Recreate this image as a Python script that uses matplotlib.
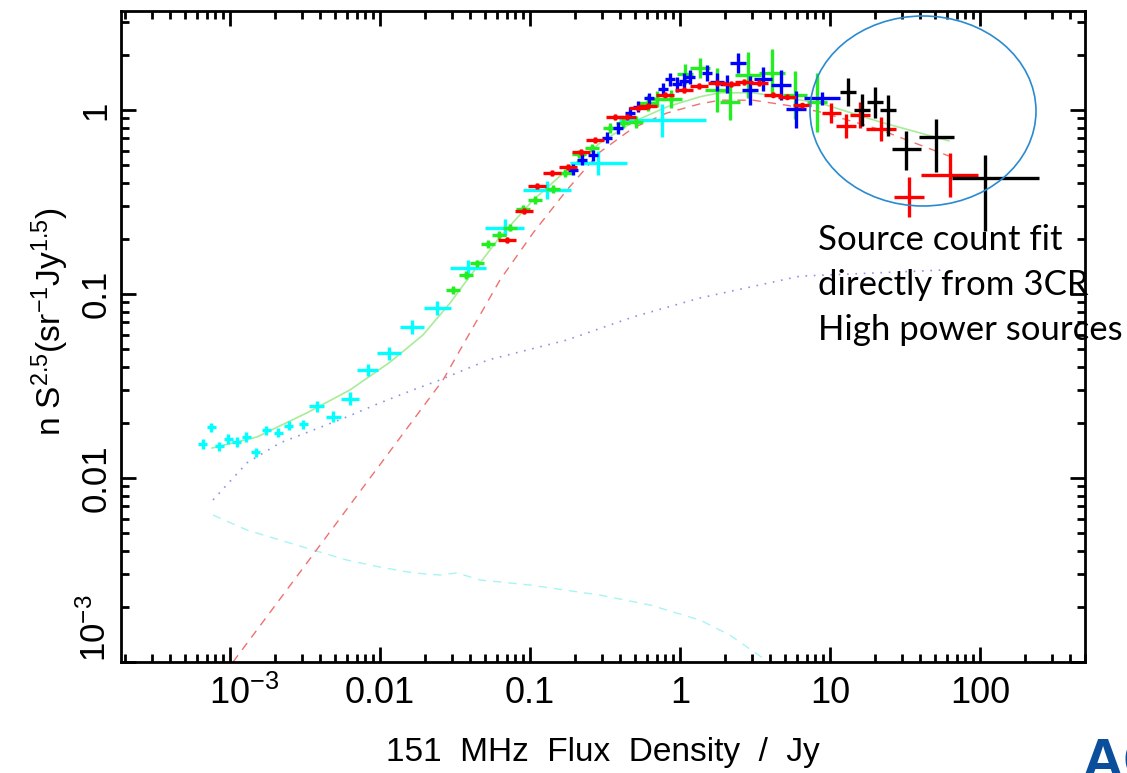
import numpy as np
import matplotlib
matplotlib.use("Agg")
import matplotlib.pyplot as plt
import matplotlib.transforms as mtransforms
from matplotlib.patches import Ellipse
from matplotlib.ticker import FixedLocator, FixedFormatter, LogLocator, NullFormatter

plt.rcParams['font.family'] = ['Liberation Sans', 'DejaVu Sans']
plt.rcParams['mathtext.fontset'] = 'custom'
plt.rcParams['mathtext.rm'] = 'Liberation Sans'
plt.rcParams['mathtext.it'] = 'Liberation Sans:italic'

# ===================== DATA (151 MHz flux / Jy, n S^2.5) =====================
# cyan survey
cyan_s = [6.6e-4, 7.5e-4, 8.5e-4, 9.7e-4, 1.11e-3, 1.28e-3, 1.49e-3, 1.74e-3, 2.09e-3, 2.47e-3,
          3.07e-3, 3.8e-3, 4.86e-3, 6.3e-3, 8.3e-3, 0.0115, 0.0163, 0.024, 0.0386, 0.068,
          0.13, 0.284, 0.76]
cyan_n = [0.0153, 0.0189, 0.0149, 0.0163, 0.0157, 0.0167, 0.0138, 0.0182, 0.0176, 0.0192,
          0.0196, 0.0246, 0.0215, 0.0269, 0.0386, 0.0477, 0.0662, 0.084, 0.138, 0.229,
          0.367, 0.515, 0.88]
cyan_xd = [0.03] * 11 + [0.05, 0.05, 0.06, 0.07, 0.08, 0.08, 0.09, 0.12, 0.13, 0.16, 0.19, 0.29]
cyan_yd = [0.025] * 11 + [0.03, 0.03, 0.035, 0.035, 0.035, 0.04, 0.04, 0.045, 0.045, 0.05, 0.065, 0.09]

# green survey
green_s = [0.0307, 0.0374, 0.0443, 0.0525, 0.0621, 0.0736, 0.0898, 0.108, 0.142, 0.171,
           0.212, 0.259, 0.341, 0.417, 0.509, 0.612, 0.703, 0.871, 1.08, 1.36,
           1.77, 2.15, 2.84, 4.1, 5.84, 8.19]
green_n = [0.105, 0.127, 0.147, 0.187, 0.209, 0.229, 0.29, 0.324, 0.372, 0.455,
           0.577, 0.621, 0.798, 0.85, 0.86, 1.09, 1.15, 1.15, 1.57, 1.69,
           1.28, 1.10, 1.55, 1.59, 1.21, 1.10]
green_xd = [0.045] * 15 + [0.06, 0.06, 0.07, 0.055, 0.065, 0.08, 0.065, 0.085, 0.085, 0.08, 0.065]
green_yd = [0.02] * 12 + [0.025, 0.03, 0.035, 0.045, 0.045, 0.05, 0.055, 0.055, 0.12, 0.095,
                          0.125, 0.13, 0.13, 0.16]

# blue survey
blue_s = [0.194, 0.222, 0.263, 0.326, 0.386, 0.464, 0.525, 0.621, 0.77, 0.858, 0.955,
          1.06, 1.17, 1.51, 1.77, 2.06, 2.44, 2.93, 3.57, 4.71, 5.93, 8.85]
blue_n = [0.472, 0.535, 0.569, 0.705, 0.798, 0.963, 1.04, 1.16, 1.30, 1.47, 1.38,
          1.44, 1.51, 1.59, 1.42, 1.38, 1.80, 1.28, 1.47, 1.37, 1.01, 1.16]
blue_xd = [0.035] * 14 + [0.045, 0.05, 0.055, 0.055, 0.06, 0.065, 0.065, 0.12]
blue_yd = [0.03] * 8 + [0.035, 0.035, 0.04, 0.04, 0.04, 0.045, 0.05, 0.05, 0.055, 0.08,
                        0.065, 0.08, 0.1, 0.035]

# red survey
red_s = [0.0703, 0.0912, 0.111, 0.14, 0.179, 0.219, 0.271, 0.369, 0.443, 0.525, 0.612,
         0.794, 1.06, 1.34, 1.77, 2.19, 2.67, 3.36, 4.17, 5.17, 6.5,
         10.2, 12.8, 15.8, 21.9, 33.6, 63.0]
red_n = [0.197, 0.283, 0.386, 0.455, 0.49, 0.591, 0.687, 0.916, 0.916, 1.03, 1.05,
         1.21, 1.28, 1.35, 1.40, 1.38, 1.42, 1.40, 1.21, 1.18, 1.06,
         0.963, 0.819, 0.94, 0.788, 0.337, 0.443]
red_xd = [0.06] * 21 + [0.065, 0.065, 0.065, 0.1, 0.1, 0.19]
red_yd = [0.015] * 21 + [0.055, 0.065, 0.07, 0.065, 0.11, 0.12]

# black (3CR)
black_s = [13.2, 16.3, 20.0, 24.4, 32.1, 50.9, 108.0]
black_n = [1.25, 1.0, 1.10, 1.0, 0.614, 0.713, 0.427]
black_xlo = [0.055, 0.055, 0.055, 0.055, 0.093, 0.113, 0.22]
black_xhi = [0.055, 0.055, 0.055, 0.055, 0.10, 0.12, 0.36]
black_ylo = [0.075, 0.085, 0.085, 0.14, 0.115, 0.19, 0.29]
black_yhi = [0.075, 0.085, 0.085, 0.08, 0.10, 0.10, 0.125]

# model curves
total_s = [7.6e-4, 1.51e-3, 3.26e-3, 6.31e-3, 0.0117, 0.0193, 0.0293, 0.038, 0.063, 0.105,
           0.176, 0.293, 0.486, 0.819, 1.36, 1.85, 3.07, 5.17, 8.58, 21.5, 62.0]
total_n = [0.01455, 0.0167, 0.0226, 0.0301, 0.0427, 0.0598, 0.0893, 0.119, 0.204, 0.324,
           0.472, 0.662, 0.861, 1.04, 1.18, 1.24, 1.24, 1.16, 1.09, 0.861, 0.679]

hp_s = [1.047e-3, 2.93e-3, 8.58e-3, 0.0263, 0.063, 0.105, 0.176, 0.293, 0.486, 0.819,
        1.36, 1.85, 3.07, 5.17, 8.58, 20.9, 62.0]
hp_n = [1.0e-3, 3.08e-3, 0.01, 0.0341, 0.119, 0.215, 0.367, 0.591, 0.798, 0.963,
        1.08, 1.13, 1.13, 1.06, 0.976, 0.788, 0.562]

lp_s = [7.7e-4, 1.3e-3, 2.15e-3, 3.58e-3, 6.03e-3, 0.01, 0.0166, 0.0251, 0.0525, 0.176,
        0.486, 1.36, 6.31, 57.5]
lp_n = [7.6e-3, 0.0121, 0.0155, 0.0182, 0.0215, 0.0256, 0.0301, 0.0341, 0.0438, 0.0562,
        0.075, 0.0951, 0.125, 0.135]

sf_s = [7.7e-4, 1.3e-3, 2.15e-3, 3.58e-3, 6.03e-3, 0.01, 0.0166, 0.0251, 0.0326, 0.0464,
        0.1, 0.293, 0.631, 1.36, 2.15, 3.69]
sf_n = [6.29e-3, 5.21e-3, 4.6e-3, 4.06e-3, 3.58e-3, 3.28e-3, 3.05e-3, 2.97e-3, 3.05e-3, 2.79e-3,
        2.62e-3, 2.31e-3, 2.04e-3, 1.69e-3, 1.4e-3, 1.03e-3]

x_ticks = [1e-3, 0.01, 0.1, 1, 10, 100]
x_tick_labels = ['$10^{-3}$', '0.01', '0.1', '1', '10', '100']
y_ticks = [1e-3, 0.01, 0.1, 1]
y_tick_labels = ['$10^{-3}$', '0.01', '0.1', '1']
note = "Source count fit\ndirectly from 3CR\nHigh power sources"
# ============================================================================


def dex_err(v, lo, hi):
    v = np.asarray(v, float)
    return [v - v / 10 ** np.asarray(lo), v * 10 ** np.asarray(hi) - v]


W, H = 1127, 773
fig = plt.figure(figsize=(W / 100, H / 100), dpi=100)
ax = fig.add_axes([121 / W, 1 - 662 / H, (1085 - 121) / W, (662 - 11) / H])
ax.set_xscale('log'); ax.set_yscale('log')
ax.set_xlim(1.876e-4, 501); ax.set_ylim(1e-3, 3.45)

# model curves
ax.plot(sf_s, sf_n, color='#a8f4f4', lw=1.0, ls=(0, (6, 5)), zorder=1)
ax.plot(lp_s, lp_n, color='#9090e8', lw=1.2, ls=(0, (1, 4)), zorder=1)
ax.plot(hp_s, hp_n, color='#f07070', lw=1.0, ls=(0, (6, 5)), zorder=1)
ax.plot(total_s, total_n, color='#a8ec98', lw=1.2, zorder=1)

ekw = dict(fmt='none', elinewidth=2.4, capsize=0, zorder=3)
ax.errorbar(cyan_s, cyan_n, xerr=dex_err(cyan_s, cyan_xd, cyan_xd),
            yerr=dex_err(cyan_n, cyan_yd, cyan_yd), ecolor='#00ffff', **ekw)
ax.errorbar(green_s, green_n, xerr=dex_err(green_s, green_xd, green_xd),
            yerr=dex_err(green_n, green_yd, green_yd), ecolor='#22ee22', **ekw)
ax.plot(green_s[:18], green_n[:18], 'o', ms=4, color='#22ee22', mew=0, zorder=3)
ax.errorbar(blue_s, blue_n, xerr=dex_err(blue_s, blue_xd, blue_xd),
            yerr=dex_err(blue_n, blue_yd, blue_yd), ecolor='#0000ff', **ekw)
ax.errorbar(red_s, red_n, xerr=dex_err(red_s, red_xd, red_xd),
            yerr=dex_err(red_n, red_yd, red_yd), ecolor='#ff0000', **ekw)
ax.plot(red_s[:21], red_n[:21], 'o', ms=4, color='#ff0000', mew=0, zorder=3)
ax.errorbar(black_s, black_n, xerr=dex_err(black_s, black_xlo, black_xhi),
            yerr=dex_err(black_n, black_ylo, black_yhi), ecolor='black', **ekw)

# axes cosmetics
for sp in ax.spines.values():
    sp.set_linewidth(2.0)
ax.xaxis.set_major_locator(FixedLocator(x_ticks))
ax.xaxis.set_major_formatter(FixedFormatter(x_tick_labels))
ax.yaxis.set_major_locator(FixedLocator(y_ticks))
ax.yaxis.set_major_formatter(FixedFormatter(y_tick_labels))
for a in (ax.xaxis, ax.yaxis):
    a.set_minor_locator(LogLocator(base=10, subs=np.arange(2, 10), numticks=20))
    a.set_minor_formatter(NullFormatter())
ax.tick_params(which='both', direction='in', top=True, right=True, width=2.0)
ax.tick_params(which='major', length=11, labelsize=26)
ax.tick_params(which='minor', length=6)
ax.tick_params(axis='x', which='major', pad=10)
ax.tick_params(axis='y', which='major', pad=6, labelsize=25)
for lab in ax.get_yticklabels():
    lab.set_rotation(90)
    lab.set_va('center')
ax.get_yticklabels()[0].set_va('bottom')
# PGPLOT-style: the 10^-3 string sits a bit right of its tick
xl0 = ax.get_xticklabels()[0]
xl0.set_transform(xl0.get_transform() + mtransforms.ScaledTranslation(14 / 100, 0, fig.dpi_scale_trans))

fig.text(603 / W, 1 - 752 / H, '151  MHz  Flux  Density  /  Jy', fontsize=24,
         ha='center', va='center')
fig.text(50 / W, 1 - 322 / H, r'n S$^{2.5}$(sr$^{-1}$Jy$^{1.5}$)', fontsize=24,
         rotation=90, ha='center', va='center')

# annotation
fig.add_artist(Ellipse((923 / W, 1 - 111 / H), 226 / W, 190 / H, transform=fig.transFigure,
                       fill=False, edgecolor='#2a8ad0', lw=1.2, zorder=5))
fig.text(818 / W, 1 - 224 / H, note, fontsize=25, family=['Lato', 'DejaVu Sans'],
         va='top', ha='left', linespacing=1.5)
fig.text(1082 / W, 1 - 738 / H, 'AC', fontsize=42, fontweight='bold', color='#0b4f9c',
         family=['Liberation Sans', 'DejaVu Sans'], va='top', ha='left')

fig.savefig('out.png', dpi=100)
